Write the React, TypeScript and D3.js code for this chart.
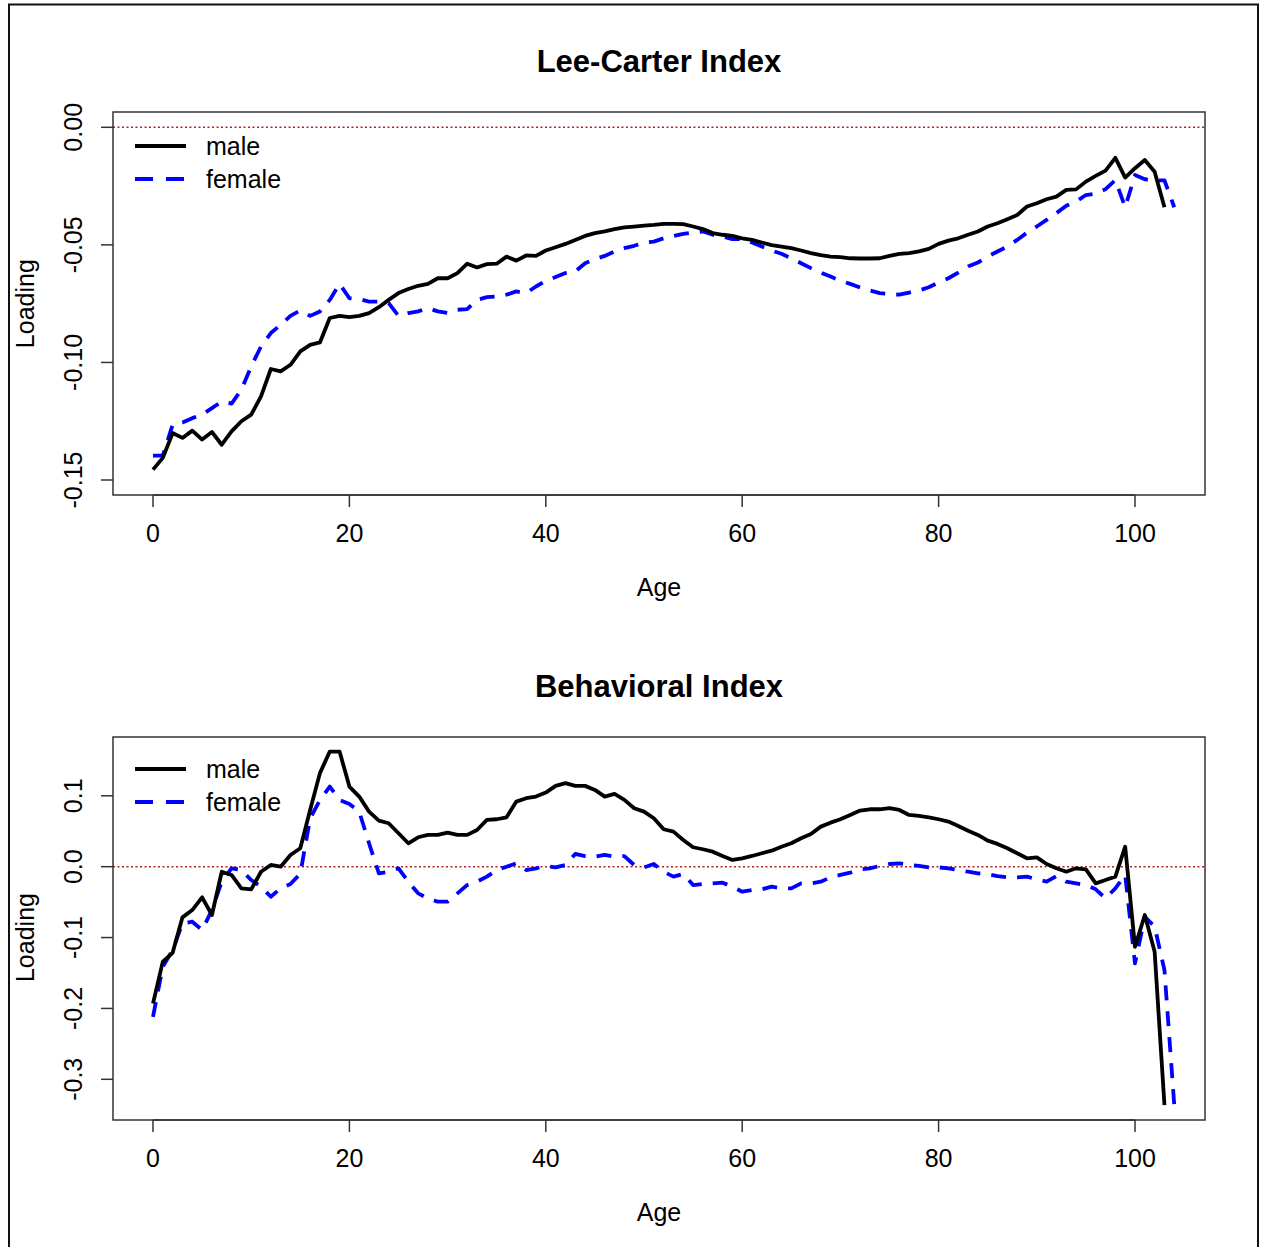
import React from "react";
import * as d3 from "d3";

// ---------- DATA ----------
const maleAges = d3.range(0, 104); // 0..103
const femaleAges = d3.range(0, 105); // 0..104

const lcMale = [
  -0.1456, -0.1406, -0.130, -0.1321, -0.129, -0.1328, -0.1296, -0.135, -0.1293, -0.125,
  -0.1222, -0.1144, -0.1028, -0.1038, -0.101, -0.0953, -0.0925, -0.0915, -0.0811, -0.0802,
  -0.0807, -0.0802, -0.079, -0.0765, -0.0734, -0.0705, -0.0688, -0.0674, -0.0666, -0.0642,
  -0.0642, -0.062, -0.058, -0.0596, -0.0582, -0.058, -0.055, -0.0567, -0.0545, -0.0547,
  -0.0524, -0.051, -0.0496, -0.0479, -0.0462, -0.045, -0.0443, -0.0433, -0.0426, -0.0422,
  -0.0418, -0.0415, -0.0411, -0.0411, -0.0412, -0.0422, -0.0433, -0.045, -0.0457, -0.0462,
  -0.0472, -0.0479, -0.049, -0.0501, -0.0507, -0.0514, -0.0524, -0.0535, -0.0544, -0.055,
  -0.0552, -0.0557, -0.0558, -0.0558, -0.0557, -0.0547, -0.0538, -0.0535, -0.0528, -0.0517,
  -0.0496, -0.0482, -0.0472, -0.0457, -0.0443, -0.0422, -0.0408, -0.0391, -0.0373, -0.0337,
  -0.0323, -0.0306, -0.0295, -0.0266, -0.0264, -0.0231, -0.0207, -0.0184, -0.0130, -0.0214,
  -0.0174, -0.0139, -0.0189, -0.034,
];

const lcFemale = [
  -0.1396, -0.1396, -0.1265, -0.1255, -0.1237, -0.1222, -0.1194, -0.1166, -0.1175, -0.1116,
  -0.1017, -0.0932, -0.0875, -0.084, -0.0802, -0.0779, -0.0802, -0.0783, -0.0734, -0.0666,
  -0.0727, -0.0731, -0.0741, -0.0741, -0.0748, -0.0802, -0.079, -0.0783, -0.0769, -0.0783,
  -0.079, -0.0776, -0.0773, -0.0734, -0.0722, -0.072, -0.0712, -0.0698, -0.0705, -0.0677,
  -0.0653, -0.0637, -0.062, -0.0613, -0.0578, -0.0561, -0.0547, -0.0528, -0.0514, -0.0504,
  -0.049, -0.0486, -0.0472, -0.0462, -0.0453, -0.0448, -0.0443, -0.0457, -0.0465, -0.0476,
  -0.0476, -0.049, -0.0507, -0.0524, -0.0538, -0.0557, -0.0578, -0.0599, -0.0618, -0.0635,
  -0.0652, -0.0666, -0.0681, -0.0694, -0.0705, -0.0709, -0.0712, -0.0703, -0.0694, -0.068,
  -0.066, -0.0642, -0.0618, -0.0592, -0.0575, -0.055, -0.0528, -0.0507, -0.0479, -0.0448,
  -0.0422, -0.0394, -0.0365, -0.0334, -0.0316, -0.0288, -0.0283, -0.0263, -0.0224, -0.034,
  -0.0203, -0.0221, -0.0225, -0.0226, -0.034,
];

const biMale = [
  -0.193, -0.134, -0.1215, -0.0715, -0.0612, -0.0433, -0.0682, -0.0071, -0.0117, -0.0305,
  -0.032, -0.0071, 0.0024, 0.0, 0.0165, 0.026, 0.080, 0.132, 0.1624, 0.1624,
  0.113, 0.0989, 0.0777, 0.065, 0.0613, 0.0471, 0.033, 0.0415, 0.0448, 0.0448,
  0.048, 0.0448, 0.0448, 0.0518, 0.066, 0.0669, 0.0697, 0.0918, 0.0966, 0.0989,
  0.1045, 0.114, 0.1178, 0.114, 0.114, 0.1083, 0.0989, 0.1027, 0.0942, 0.0825,
  0.0777, 0.0683, 0.0528, 0.0494, 0.0377, 0.0274, 0.0246, 0.0212, 0.0151, 0.0095,
  0.0118, 0.0151, 0.0189, 0.0226, 0.0282, 0.033, 0.0401, 0.0462, 0.0565, 0.0621,
  0.0669, 0.073, 0.0791, 0.081, 0.081, 0.0825, 0.080, 0.073, 0.0716, 0.0697,
  0.0669, 0.0636, 0.0575, 0.0508, 0.0448, 0.0367, 0.0321, 0.026, 0.0189, 0.0118,
  0.0132, 0.0038, -0.0023, -0.0071, -0.0023, -0.0037, -0.0235, -0.0188, -0.0141, 0.0282,
  -0.113, -0.0682, -0.12, -0.3366,
];

const biFemale = [
  -0.2119, -0.141, -0.1177, -0.080, -0.0777, -0.0894, -0.0612, -0.0212, -0.0023, -0.0047,
  -0.0188, -0.0282, -0.0424, -0.0305, -0.0245, -0.010, 0.068, 0.094, 0.113, 0.094,
  0.0885, 0.0777, 0.033, -0.0094, -0.0071, -0.0023, -0.0212, -0.0376, -0.0447, -0.0494,
  -0.0494, -0.0376, -0.0259, -0.0212, -0.0141, -0.0047, 0.0, 0.0047, -0.0047, -0.0023,
  0.001, -0.001, 0.0024, 0.018, 0.015, 0.0141, 0.0165, 0.0141, 0.015, 0.0024,
  -0.001, 0.0038, -0.0071, -0.0141, -0.0103, -0.0259, -0.0245, -0.0235, -0.0226, -0.0282,
  -0.0353, -0.0329, -0.032, -0.0282, -0.0306, -0.0306, -0.0235, -0.0235, -0.0212, -0.015,
  -0.0117, -0.0085, -0.0037, -0.0023, 0.001, 0.0038, 0.0047, 0.0024, 0.001, -0.001,
  -0.001, -0.0023, -0.0047, -0.0071, -0.0094, -0.0104, -0.0132, -0.015, -0.015, -0.0141,
  -0.0179, -0.0212, -0.0132, -0.0212, -0.0235, -0.0259, -0.032, -0.0447, -0.0306, -0.0117,
  -0.1365, -0.0706, -0.0847, -0.146, -0.3366,
];

const xTicks = [0, 20, 40, 60, 80, 100];
const lcYTicks = [0, -0.05, -0.1, -0.15];
const biYTicks = [0.1, 0, -0.1, -0.2, -0.3];
const seriesNames = ["male", "female"];

// ---------- LAYOUT ----------
const W = 1261;
const H = 1247;
const FONT = "'Liberation Sans', Arial, sans-serif";

type PanelProps = {
  title: string;
  top: number;
  bottom: number;
  yScale: d3.ScaleLinear<number, number>;
  yTicks: number[];
  yFmt: (v: number) => string;
  male: number[];
  female: number[];
  legendY: number;
  titleY: number;
};

const x = d3.scaleLinear().domain([0, 100]).range([153, 1135]);
const boxLeft = 113;
const boxRight = 1205;

function Panel(p: PanelProps) {
  const line = d3
    .line<[number, number]>()
    .x((d) => x(d[0]))
    .y((d) => p.yScale(d[1]));
  const mPts = maleAges.map((a, i) => [a, p.male[i]] as [number, number]);
  const fPts = femaleAges.map((a, i) => [a, p.female[i]] as [number, number]);
  const y0 = p.yScale(0);
  const yMid = (p.yScale(p.yTicks[0]) + p.yScale(p.yTicks[p.yTicks.length - 1])) / 2;
  return (
    <g>
      <text x={659} y={p.titleY} textAnchor="middle" fontFamily={FONT} fontWeight="bold" fontSize={31}>
        {p.title}
      </text>
      <line x1={boxLeft} x2={boxRight} y1={y0} y2={y0} stroke="#b22222" strokeWidth={1.4} strokeDasharray="2 2.5" />
      <path d={line(fPts) || ""} fill="none" stroke="#0000ff" strokeWidth={3.8} strokeDasharray="15 11" strokeLinejoin="round" />
      <path d={line(mPts) || ""} fill="none" stroke="#000" strokeWidth={3.8} strokeLinejoin="round" />
      <rect x={boxLeft} y={p.top} width={boxRight - boxLeft} height={p.bottom - p.top} fill="none" stroke="#333" strokeWidth={1.5} />
      <line x1={x(0)} x2={x(100)} y1={p.bottom} y2={p.bottom} stroke="#333" strokeWidth={1.5} />
      {xTicks.map((t) => (
        <g key={t}>
          <line x1={x(t)} x2={x(t)} y1={p.bottom} y2={p.bottom + 12} stroke="#333" strokeWidth={1.5} />
          <text x={x(t)} y={p.bottom + 47} textAnchor="middle" fontFamily={FONT} fontSize={25}>
            {t}
          </text>
        </g>
      ))}
      <text x={659} y={p.bottom + 101} textAnchor="middle" fontFamily={FONT} fontSize={25}>
        Age
      </text>
      {p.yTicks.map((t) => (
        <g key={t}>
          <line x1={boxLeft - 12} x2={boxLeft} y1={p.yScale(t)} y2={p.yScale(t)} stroke="#333" strokeWidth={1.5} />
          <text
            transform={`translate(${82},${p.yScale(t)}) rotate(-90)`}
            textAnchor="middle"
            fontFamily={FONT}
            fontSize={25}
          >
            {p.yFmt(t)}
          </text>
        </g>
      ))}
      <text transform={`translate(34,${yMid}) rotate(-90)`} textAnchor="middle" fontFamily={FONT} fontSize={25}>
        Loading
      </text>
      {seriesNames.map((n, i) => {
        const ly = p.legendY + i * 33;
        return (
          <g key={n}>
            <line
              x1={135}
              x2={186}
              y1={ly}
              y2={ly}
              stroke={i === 0 ? "#000" : "#0000ff"}
              strokeWidth={3.8}
              strokeDasharray={i === 0 ? undefined : "18 13"}
            />
            <text x={206} y={ly + 9} fontFamily={FONT} fontSize={25}>
              {n}
            </text>
          </g>
        );
      })}
    </g>
  );
}

export default function App() {
  const yTop = d3.scaleLinear().domain([0, -0.15]).range([127.3, 480]);
  const yBot = d3.scaleLinear().domain([0.1, -0.3]).range([795.8, 1079.3]);
  const fmt2 = (v: number) => (v === 0 ? "0.00" : d3.format(".2f")(v).replace("−", "-"));
  const fmt1 = (v: number) => (v === 0 ? "0.0" : d3.format(".1f")(v).replace("−", "-"));
  return (
    <svg
      width={W}
      height={H}
      style={{ position: "absolute", left: 0, top: 0, background: "#fff" }}
      xmlns="http://www.w3.org/2000/svg"
    >
      <rect x={0} y={0} width={W} height={H} fill="#fff" />
      <rect x={9} y={4.5} width={1249} height={1260} fill="none" stroke="#111" strokeWidth={2} />
      <Panel
        title="Lee-Carter Index"
        top={112}
        bottom={495}
        yScale={yTop}
        yTicks={lcYTicks}
        yFmt={fmt2}
        male={lcMale}
        female={lcFemale}
        legendY={146}
        titleY={72}
      />
      <Panel
        title="Behavioral Index"
        top={737}
        bottom={1120}
        yScale={yBot}
        yTicks={biYTicks}
        yFmt={fmt1}
        male={biMale}
        female={biFemale}
        legendY={769}
        titleY={697}
      />
    </svg>
  );
}
